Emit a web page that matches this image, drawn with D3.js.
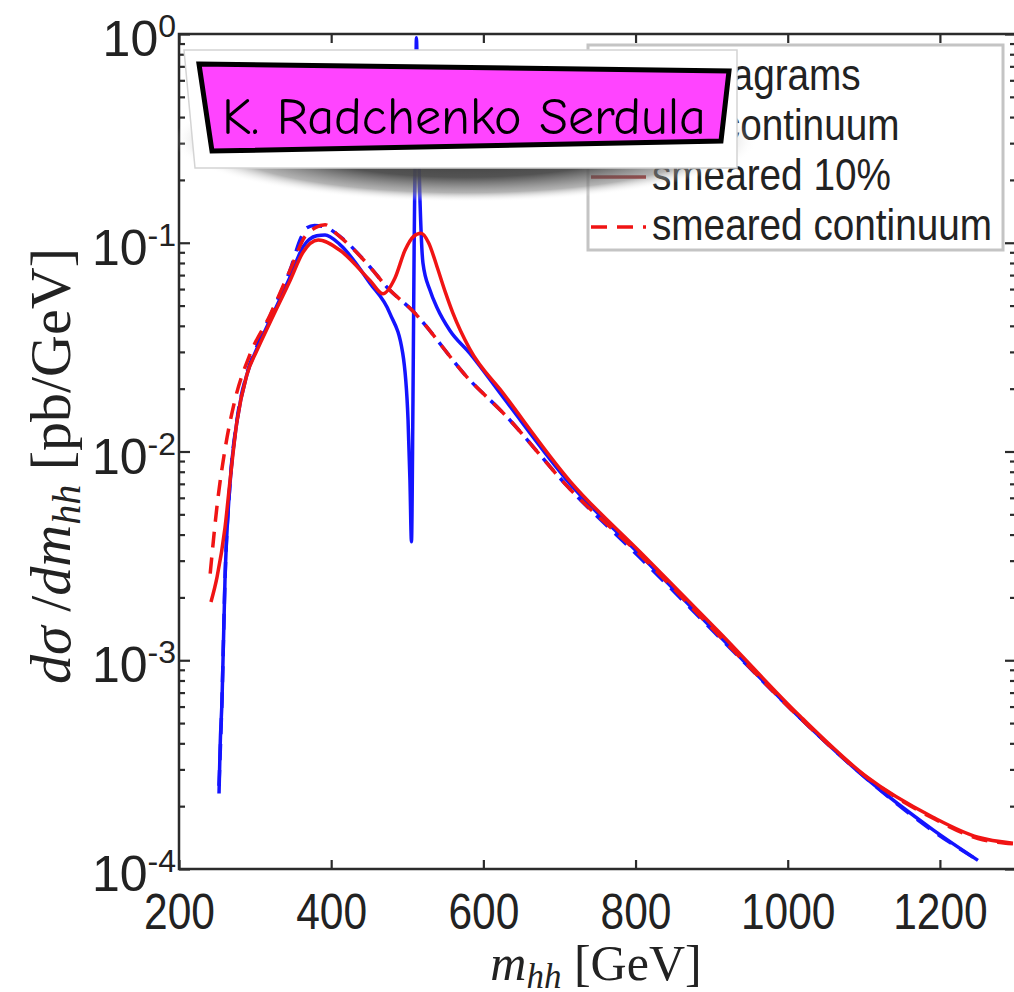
<!DOCTYPE html>
<html>
<head>
<meta charset="utf-8">
<script src="https://cdn.jsdelivr.net/npm/d3@7"></script>
<style>
  body { margin: 0; background: #fff; }
  #vis { width: 1014px; height: 992px; overflow: hidden; }
</style>
</head>
<body>
<div id="vis"></div>
<script>
// m_hh spectrum, log scale, four curves
const xTicks = [200, 400, 600, 800, 1000, 1200];
const yMajor = [1e-4, 1e-3, 1e-2, 1e-1, 1];
const yExpLabels = ["-4", "-3", "-2", "-1", "0"];

const allDiagramsMass = [252.6, 254, 256.5, 260.4, 267, 276, 289, 302.5, 319.6, 346, 363, 381, 392, 411.5, 451, 477, 494, 501, 503.5, 505.5, 507.5, 509, 511, 512, 514, 516.7, 520.6, 530, 539, 556, 582, 626, 714, 806, 911, 1016, 1104, 1191, 1250];
const allDiagramsXs = [2.3e-4, 3.8e-4, 6.4e-4, 2.4e-3, 7.0e-3, 0.0138, 0.0232, 0.0312, 0.0425, 0.0686, 0.0955, 0.108, 0.109, 0.098, 0.064, 0.046, 0.0296, 0.0142, 7.3e-3, 3.7e-3, 0.0177, 0.093, 0.48, 0.96, 0.39, 0.16, 0.08, 0.059, 0.049, 0.038, 0.0296, 0.0182, 7.0e-3, 3.2e-3, 1.3e-3, 5.3e-4, 2.7e-4, 1.54e-4, 1.1e-4];

const continuumMass = [252.5, 256.5, 260.4, 267, 276, 289, 302.5, 319.6, 346, 360, 368, 378, 392, 407.6, 451, 473, 506, 582, 626, 714, 806, 911, 1016, 1104, 1191, 1250];
const continuumXs = [2.5e-4, 6.5e-4, 2.4e-3, 7.0e-3, 0.014, 0.0235, 0.032, 0.0445, 0.074, 0.105, 0.118, 0.121, 0.119, 0.11, 0.0766, 0.0614, 0.0476, 0.022, 0.0153, 6.6e-3, 3.1e-3, 1.28e-3, 5.3e-4, 2.7e-4, 1.52e-4, 1.1e-4];

const smeared10Mass = [242, 250, 260.4, 267, 276, 289, 302.5, 319.6, 346, 363, 383, 411.5, 451, 468, 484, 497, 508, 518, 528, 539, 550, 560, 582, 626, 714, 806, 911, 1016, 1104, 1191, 1250, 1296];
const smeared10Xs = [1.9e-3, 2.5e-3, 4.3e-3, 7.2e-3, 0.0138, 0.0232, 0.0305, 0.0415, 0.066, 0.09, 0.103, 0.092, 0.066, 0.057, 0.068, 0.092, 0.107, 0.111, 0.1, 0.077, 0.058, 0.046, 0.031, 0.019, 7.2e-3, 3.3e-3, 1.35e-3, 5.4e-4, 2.76e-4, 1.77e-4, 1.42e-4, 1.33e-4];

const smearedContMass = [241, 251, 260.4, 273.6, 293, 319.6, 346, 365.6, 379, 392, 407.6, 451, 473, 506, 582, 626, 714, 806, 911, 1016, 1104, 1191, 1250, 1296];
const smearedContXs = [2.6e-3, 5.9e-3, 0.0102, 0.0177, 0.029, 0.045, 0.074, 0.107, 0.118, 0.122, 0.11, 0.0766, 0.0614, 0.0476, 0.022, 0.0153, 6.6e-3, 3.2e-3, 1.3e-3, 5.3e-4, 2.75e-4, 1.75e-4, 1.4e-4, 1.32e-4];

const legendLabels = ["all diagrams", "SM continuum", "smeared 10%", "smeared continuum"];

const width = 1014, height = 992;
const plot = { left: 179, right: 1016, top: 34, bottom: 869 };
const squeeze = 0.85; // x tick labels look squashed sideways

const svg = d3.select("#vis").append("svg")
  .attr("width", width)
  .attr("height", height);

const x = d3.scaleLinear().domain([200, 1300]).range([plot.left, plot.right]);
const y = d3.scaleLog().domain([1e-4, 1]).range([plot.bottom, plot.top]);

svg.append("clipPath").attr("id", "clip")
  .append("rect")
  .attr("x", plot.left).attr("y", plot.top)
  .attr("width", plot.right - plot.left).attr("height", plot.bottom - plot.top);

// minor ticks for log axis
const yMinor = [];
yMajor.slice(0, -1).forEach(p => { for (let k = 2; k <= 9; k++) yMinor.push(p * k); });

const axisColor = "#2b2b2b";
function styleAxis(g) {
  g.select(".domain").remove();
  g.selectAll("line").attr("stroke", axisColor).attr("stroke-width", 2.2);
}

// x axis bottom
const xAxis = svg.append("g")
  .attr("transform", `translate(0,${plot.bottom})`)
  .call(d3.axisBottom(x).tickValues(xTicks).tickSizeInner(-9).tickSizeOuter(0).tickPadding(25).tickFormat(d3.format("d")))
  .call(styleAxis);
xAxis.selectAll("text")
  .attr("fill", "#222")
  .attr("transform", `scale(${squeeze},1)`)
  .style("font-family", "'Liberation Sans', Arial, sans-serif")
  .style("font-size", "50px");

// x axis top (ticks only)
svg.append("g")
  .attr("transform", `translate(0,${plot.top})`)
  .call(d3.axisTop(x).tickValues(xTicks).tickSizeInner(-9).tickSizeOuter(0).tickFormat(""))
  .call(styleAxis);

// y axes left and right, majors and minors
[[d3.axisLeft, plot.left], [d3.axisRight, plot.right]].forEach(([ax, pos]) => {
  svg.append("g")
    .attr("transform", `translate(${pos},0)`)
    .call(ax(y).tickValues(yMajor).tickSizeInner(-11).tickSizeOuter(0).tickFormat(""))
    .call(styleAxis);
  svg.append("g")
    .attr("transform", `translate(${pos},0)`)
    .call(ax(y).tickValues(yMinor).tickSizeInner(-6).tickSizeOuter(0).tickFormat(""))
    .call(styleAxis);
});

// y tick labels as 10^n
yMajor.forEach((v, i) => {
  const t = svg.append("text")
    .attr("x", plot.left - 3)
    .attr("y", y(v) + 22)
    .attr("text-anchor", "end")
    .attr("fill", "#222")
    .style("font-family", "'Liberation Sans', Arial, sans-serif")
    .style("font-size", "50px");
  t.append("tspan").text("10");
  t.append("tspan").attr("dy", -19).style("font-size", "32px").text(yExpLabels[i]);
});

// frame
svg.append("rect")
  .attr("x", plot.left).attr("y", plot.top)
  .attr("width", plot.right - plot.left).attr("height", plot.bottom - plot.top)
  .attr("fill", "none")
  .attr("stroke", axisColor)
  .attr("stroke-width", 2.5);

// axis titles
const serif = "'Liberation Serif', 'DejaVu Serif', serif";
const xt = svg.append("text")
  .attr("x", 596).attr("y", 980)
  .attr("text-anchor", "middle")
  .attr("fill", "#222")
  .style("font-family", serif)
  .style("font-size", "50px");
xt.append("tspan").style("font-style", "italic").text("m");
xt.append("tspan").style("font-style", "italic").style("font-size", "35px").attr("dy", 8).text("hh");
xt.append("tspan").attr("dy", -8).text(" [GeV]");

const yt = svg.append("text")
  .attr("transform", "translate(70,466) rotate(-90)")
  .attr("text-anchor", "middle")
  .attr("fill", "#222")
  .style("font-family", serif)
  .style("font-size", "58px");
yt.append("tspan").style("font-style", "italic").text("dσ");
yt.append("tspan").text(" /");
yt.append("tspan").style("font-style", "italic").text("dm");
yt.append("tspan").style("font-style", "italic").style("font-size", "40px").attr("dy", 10).text("hh");
yt.append("tspan").attr("dy", -10).text(" [pb/GeV]");

// curves
const series = [
  { mass: allDiagramsMass, xs: allDiagramsXs, color: "#1414ff", dash: null },
  { mass: continuumMass, xs: continuumXs, color: "#1414ff", dash: "16,10" },
  { mass: smeared10Mass, xs: smeared10Xs, color: "#f01414", dash: null },
  { mass: smearedContMass, xs: smearedContXs, color: "#f01414", dash: "16,10" }
];

const line = d3.line()
  .x(d => x(d[0]))
  .y(d => y(d[1]))
  .curve(d3.curveMonotoneX);

const curves = svg.append("g").attr("clip-path", "url(#clip)");
series.forEach(s => {
  curves.append("path")
    .datum(d3.zip(s.mass, s.xs))
    .attr("d", line)
    .attr("fill", "none")
    .attr("stroke", s.color)
    .attr("stroke-width", 3.5)
    .attr("stroke-dasharray", s.dash)
    .attr("stroke-linejoin", "round");
});

// legend
const legend = svg.append("g");
legend.append("rect")
  .attr("x", 588).attr("y", 45)
  .attr("width", 415).attr("height", 205)
  .attr("fill", "#fff")
  .attr("stroke", "#c4c4c4")
  .attr("stroke-width", 3);
const legendColors = ["#1414ff", "#1414ff", "#a00000", "#f01414"];
const legendDash = [null, "16,10", null, "16,10"];
legendLabels.forEach((lab, i) => {
  const by = 90 + i * 50;
  legend.append("line")
    .attr("x1", 591).attr("x2", 646)
    .attr("y1", by - 13).attr("y2", by - 13)
    .attr("stroke", legendColors[i])
    .attr("stroke-width", 3.5)
    .attr("stroke-dasharray", legendDash[i]);
  legend.append("g")
    .attr("transform", `translate(652,${by}) scale(0.88,1)`)
    .append("text")
    .attr("fill", "#222")
    .style("font-family", "'Liberation Sans', Arial, sans-serif")
    .style("font-size", "44px")
    .text(lab);
});

// name sticker on top
const defs = svg.append("defs");
const grad = defs.append("radialGradient").attr("id", "shadowGrad");
[[0, "#2a2a2a", 1], [0.6, "#4a4a4a", 0.95], [0.85, "#808080", 0.6], [1, "#ffffff", 0]].forEach(([o, c, a]) => {
  grad.append("stop").attr("offset", o).attr("stop-color", c).attr("stop-opacity", a);
});

const sticker = svg.append("g");
sticker.append("ellipse")
  .attr("cx", 465).attr("cy", 140)
  .attr("rx", 292).attr("ry", 62)
  .attr("fill", "url(#shadowGrad)");
sticker.append("polygon")
  .attr("points", "184,50 737,50 737,168 195,168")
  .attr("fill", "#fff")
  .attr("stroke", "#d4d4d4")
  .attr("stroke-width", 1.5);
sticker.append("polygon")
  .attr("points", "199,64 729,71 721,141 212,151")
  .attr("fill", "#ff44ff")
  .attr("stroke", "#000")
  .attr("stroke-width", 5);
sticker.append("text")
  .attr("x", 464).attr("y", 134)
  .attr("text-anchor", "middle")
  .attr("textLength", 484)
  .attr("lengthAdjust", "spacingAndGlyphs")
  .attr("fill", "#000")
  .style("font-family", "'Comic Sans MS', 'Comic Neue', Lato, sans-serif")
  .style("font-size", "52px")
  .text("K. Radchenko Serdula");
</script>
</body>
</html>
